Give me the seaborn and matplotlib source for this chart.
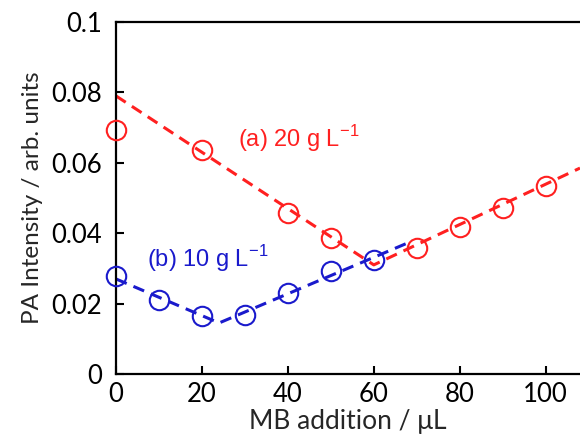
import numpy as np
import pandas as pd
import matplotlib
matplotlib.use('Agg')
import matplotlib.pyplot as plt
import seaborn as sns

# measured points
mb_a = [0, 20, 40, 50, 70, 80, 90, 100]
pa_a = [0.0693, 0.0637, 0.0457, 0.0386, 0.0357, 0.0418, 0.0472, 0.0535]
mb_b = [0, 10, 20, 30, 40, 50, 60]
pa_b = [0.0277, 0.0211, 0.0165, 0.0167, 0.0229, 0.0292, 0.0325]

# guide lines (dashed)
fit_a_x = [0, 60, 108]
fit_a_y = [0.0790, 0.0310, 0.0585]
fit_b_x = [0, 24, 69]
fit_b_y = [0.0270, 0.0145, 0.0378]

xticks = [0, 20, 40, 60, 80, 100]
yticks = [0, 0.02, 0.04, 0.06, 0.08, 0.1]
ytick_labels = ['0', '0.02', '0.04', '0.06', '0.08', '0.1']

red = '#ff2020'
blue = '#1a1acc'


def main():
    sns.set_style('ticks')
    plt.rcParams['font.family'] = ['Lato', 'DejaVu Sans']

    fig = plt.figure(figsize=(5.8, 4.46), dpi=100)
    ax = fig.add_axes([116 / 580, 72 / 446, 1 - 116 / 580, 352 / 446])

    df_a = pd.DataFrame({'x': mb_a, 'y': pa_a})
    df_b = pd.DataFrame({'x': mb_b, 'y': pa_b})

    sns.lineplot(x=fit_a_x, y=fit_a_y, ax=ax, color=red, lw=2.2,
                 zorder=2).lines[-1].set_dashes([3.8, 2.4])
    sns.lineplot(x=fit_b_x, y=fit_b_y, ax=ax, color=blue, lw=2.2,
                 zorder=2).lines[-1].set_dashes([3.8, 2.4])

    ax.plot(df_a['x'], df_a['y'], 'o', ms=14, mfc='none', mec=red, mew=1.5,
            zorder=3, clip_on=False)
    ax.plot(df_b['x'], df_b['y'], 'o', ms=14, mfc='none', mec=blue, mew=1.5,
            zorder=3, clip_on=False)

    ax.text(28.5, 0.0668, '(a) 20 g L$^{\\mathregular{-1}}$', color=red, fontsize=17,
            family=['Liberation Sans', 'DejaVu Sans'], va='center')
    ax.text(7.2, 0.0327, '(b) 10 g L$^{\\mathregular{-1}}$', color=blue, fontsize=17,
            family=['Liberation Sans', 'DejaVu Sans'], va='center')

    ax.set_xlim(0, 108)
    ax.set_ylim(0, 0.1)
    ax.set_xticks(xticks)
    ax.set_yticks(yticks)
    ax.set_yticklabels(ytick_labels)
    ax.tick_params(direction='in', length=6, width=1.5, labelsize=18.5, colors='black')
    ax.tick_params(axis='x', pad=6)
    ax.tick_params(axis='y', pad=10)
    for side in ['left', 'bottom', 'top']:
        ax.spines[side].set_linewidth(1.6)
        ax.spines[side].set_color('black')
    ax.spines['right'].set_visible(False)
    ax.set_xlabel('MB addition / \u03bcL', fontsize=19, labelpad=1)
    ax.set_ylabel('PA Intensity / arb. units', fontsize=17.5, labelpad=6)

    fig.savefig('out.png', dpi=100)
    return 0


if __name__ == '__main__':
    main()
